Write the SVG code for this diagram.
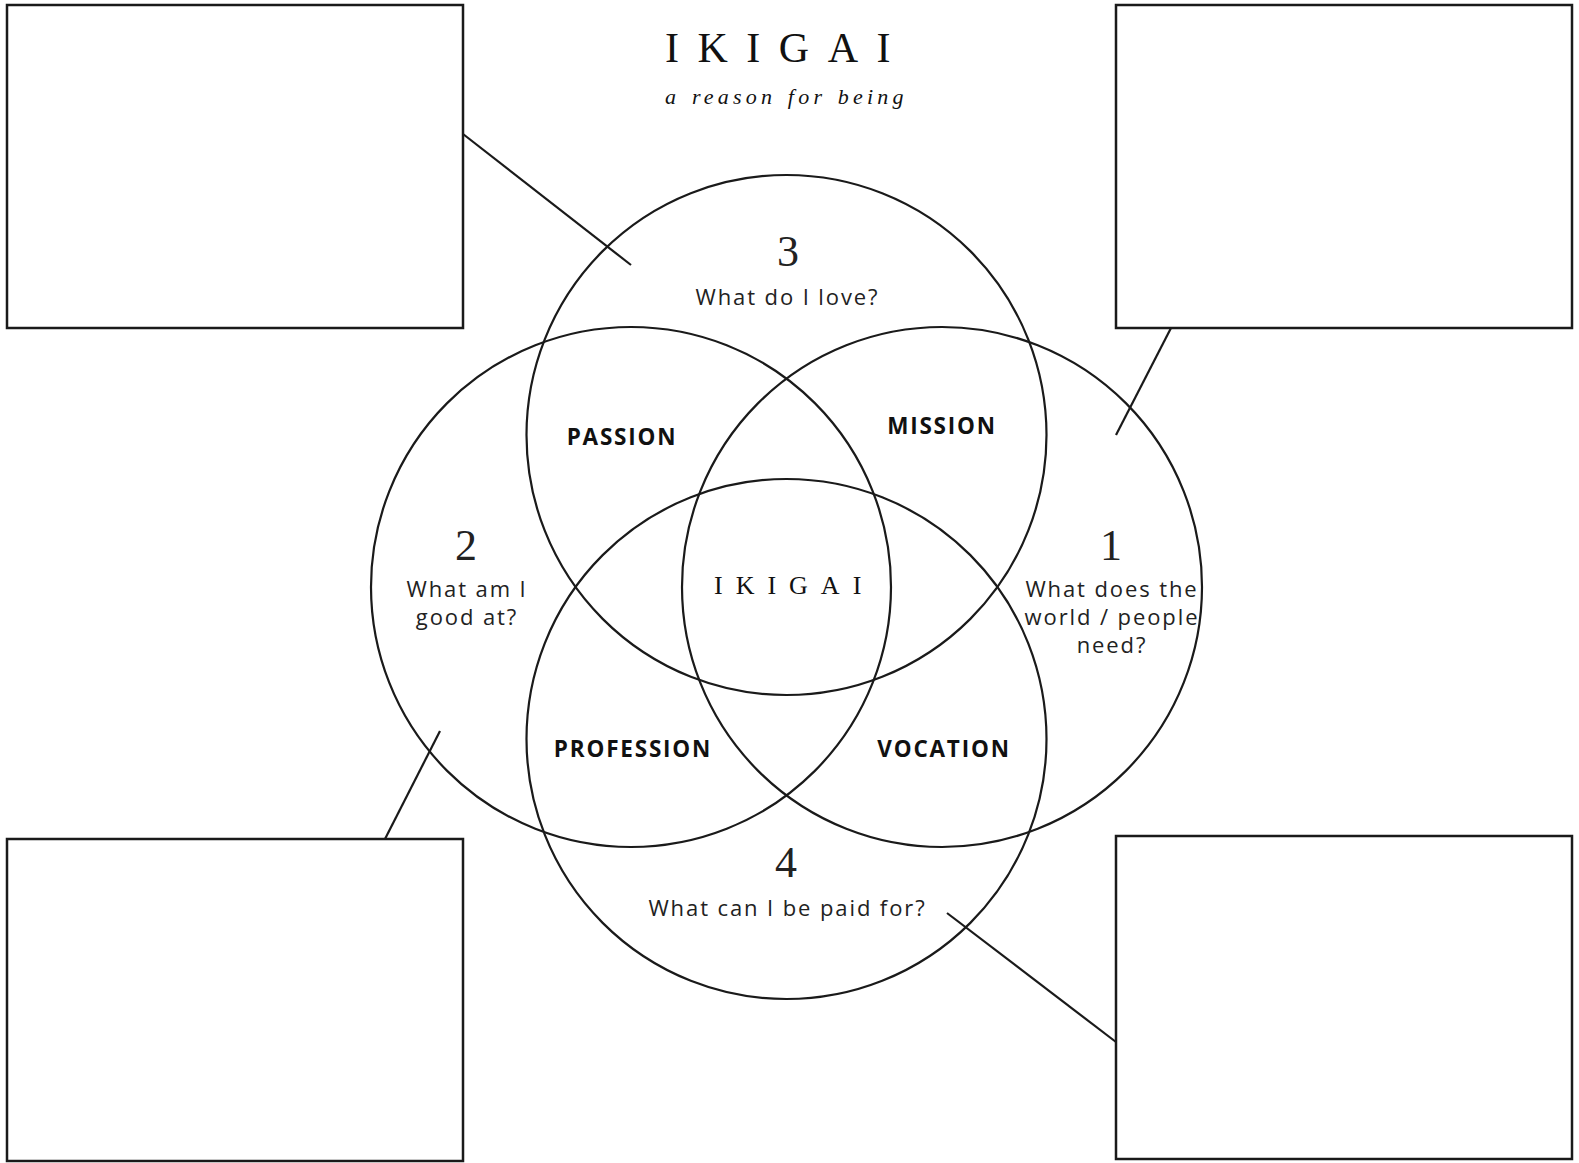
<svg xmlns="http://www.w3.org/2000/svg" width="1579" height="1163" viewBox="0 0 1579 1163">
<style>
.box{fill:#fff;stroke:#1a1a1a;stroke-width:2.5}
.circ{fill:none;stroke:#1a1a1a;stroke-width:2.2}
.conn{stroke:#1a1a1a;stroke-width:2.2;fill:none}
.q{font-family:"Open Sans","Liberation Sans",sans-serif;font-size:22px;fill:#222;text-anchor:middle;letter-spacing:1.9px}
.lbl{font-family:"Open Sans","Liberation Sans",sans-serif;font-size:22.5px;font-weight:bold;fill:#111;text-anchor:middle;letter-spacing:1.8px}
.num{font-family:"Liberation Serif","DejaVu Serif",serif;font-size:44px;fill:#222;text-anchor:middle}
.title{font-family:"Liberation Serif","DejaVu Serif",serif;fill:#111}
</style>
<rect width="1579" height="1163" fill="#fff"/>
<g id="box-top-left"><rect class="box" x="7" y="5" width="456" height="323"/></g>
<g id="box-top-right"><rect class="box" x="1116" y="5" width="456" height="323"/></g>
<g id="box-bottom-left"><rect class="box" x="7" y="839" width="456" height="322"/></g>
<g id="box-bottom-right"><rect class="box" x="1116" y="836" width="456" height="323"/></g>
<g id="title">
<text class="title" x="665" y="62" font-size="42" letter-spacing="18.5">IKIGAI</text>
<text class="title" x="665" y="104" font-size="22" font-style="italic" letter-spacing="4.2" word-spacing="2">a reason for being</text>
</g>
<g id="circle-3"><circle class="circ" cx="786.5" cy="435" r="260"/>
<text class="num" x="788" y="266">3</text>
<text class="q" x="787.5" y="305">What do I love?</text></g>
<g id="circle-2"><circle class="circ" cx="631" cy="587" r="260"/>
<text class="num" x="466" y="560">2</text>
<text class="q" x="467" y="597">What am I</text>
<text class="q" x="467" y="625">good at?</text></g>
<g id="circle-1"><circle class="circ" cx="942" cy="587" r="260"/>
<text class="num" x="1111" y="560">1</text>
<text class="q" x="1112" y="597">What does the</text>
<text class="q" x="1112" y="625">world / people</text>
<text class="q" x="1112" y="653">need?</text></g>
<g id="circle-4"><circle class="circ" cx="786.5" cy="739" r="260"/>
<text class="num" x="786" y="877">4</text>
<text class="q" x="787.5" y="916">What can I be paid for?</text></g>
<g id="passion"><text class="lbl" x="622" y="445">PASSION</text></g>
<g id="mission"><text class="lbl" x="942" y="434">MISSION</text></g>
<g id="profession"><text class="lbl" x="633" y="757">PROFESSION</text></g>
<g id="vocation"><text class="lbl" x="944" y="757">VOCATION</text></g>
<g id="ikigai-center"><text class="title" x="714" y="594" font-size="26" letter-spacing="13">IKIGAI</text></g>
<g id="connectors">
<line class="conn" x1="463" y1="134" x2="631" y2="265"/>
<line class="conn" x1="1171" y1="328" x2="1116" y2="435"/>
<line class="conn" x1="440" y1="731" x2="385" y2="839"/>
<line class="conn" x1="947" y1="913" x2="1116" y2="1042"/>
</g>
</svg>
